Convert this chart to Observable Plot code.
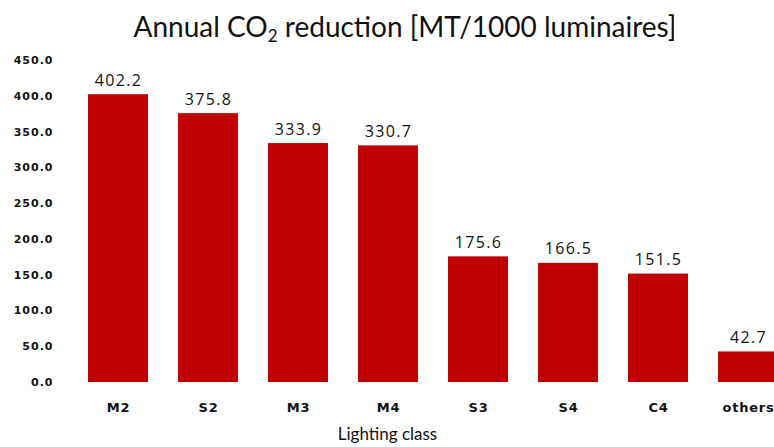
<!DOCTYPE html>
<html>
<head>
<meta charset="utf-8">
<script src="https://cdn.jsdelivr.net/npm/d3@7"></script>
<script src="https://cdn.jsdelivr.net/npm/@observablehq/plot@0.6"></script>
<style>
  body { margin: 0; background: white; font-family: Lato, "Open Sans", sans-serif; overflow: hidden; }
  #title { height: 45px; line-height: 52px; text-align: center; padding-left: 36px; font-size: 28px; color: #111; white-space: nowrap; }
  #title sub { font-size: 17px; vertical-align: -5px; line-height: 0; }
  .yax text { letter-spacing: 1px; }
  .xax text { letter-spacing: 0.8px; }
  .vals text { letter-spacing: 1.3px; }
</style>
</head>
<body>
<div id="title">Annual CO<sub>2</sub> reduction [MT/1000 luminaires]</div>
<div id="chart"></div>
<script>
const classes = ["M2", "S2", "M3", "M4", "S3", "S4", "C4", "others"];
const values = [402.2, 375.8, 333.9, 330.7, 175.6, 166.5, 151.5, 42.7];
const yTicks = [0, 50, 100, 150, 200, 250, 300, 350, 400, 450];

const data = classes.map((c, i) => ({cls: c, value: values[i]}));

const chart = Plot.plot({
  width: 774,
  height: 402,
  marginTop: 15,
  marginBottom: 65,
  marginLeft: 60,
  marginRight: 0,
  style: {fontFamily: "Lato, 'Open Sans', sans-serif", color: "#111", background: "white"},
  x: {domain: classes, range: [57, 809], padding: 0.33, label: null},
  y: {domain: [0, 450], label: null},
  marks: [
    Plot.barY(data, {x: "cls", y: "value", fill: "#C00000"}),
    Plot.text(data, {x: "cls", y: "value", text: d => d.value.toFixed(1), lineAnchor: "bottom", dy: -9, fontSize: 16, fill: "#111", fontFamily: "'Open Sans', sans-serif", className: "vals"}),
    Plot.axisY({ticks: yTicks, tickFormat: d => d.toFixed(1), tickSize: 0, tickPadding: 7, fontSize: 11, fontWeight: "bold", fontFamily: "'DejaVu Sans', sans-serif", label: null, className: "yax"}),
    Plot.axisX({tickSize: 0, tickPadding: 20, fontSize: 13, fontWeight: "bold", fontFamily: "'DejaVu Sans', sans-serif", label: null, className: "xax"}),
    Plot.text(["Lighting class"], {frameAnchor: "bottom", dx: -30, dy: 57, fontSize: 17, fill: "#111"})
  ]
});
document.getElementById("chart").appendChild(chart);
</script>
</body>
</html>
